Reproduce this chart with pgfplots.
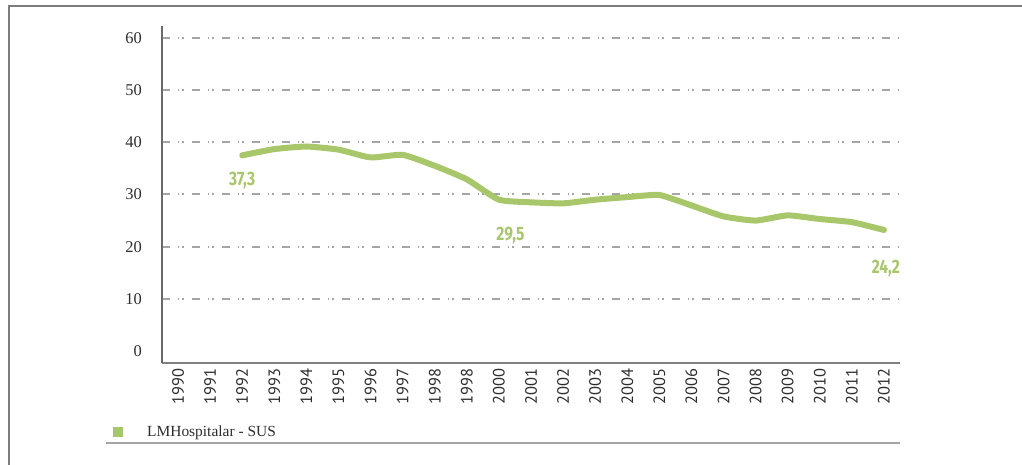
\documentclass[border=0pt]{standalone}
\usepackage{fontspec}
\setmainfont{Liberation Serif}
\newfontfamily\ptsans{PT Sans}
\newfontfamily\cond[FakeStretch=0.8]{Fira Sans}
\usepackage{pgfplots}
\pgfplotsset{compat=1.18}
\definecolor{lmgreen}{RGB}{168,198,106}
\definecolor{gridgray}{RGB}{165,165,165}
\definecolor{axisgray}{RGB}{105,105,105}
\definecolor{framegray}{RGB}{125,125,125}
\definecolor{txt}{RGB}{45,45,45}
\begin{document}
\begin{tikzpicture}[x=1bp,y=1bp]
\useasboundingbox (0,0) rectangle (1022,465);
\draw[color=framegray, line width=2bp] (9,0) -- (9,459) -- (1022,459);
\begin{axis}[
  at={(162bp,102bp)}, anchor=south west,
  scale only axis, width=738bp, height=337bp,
  xmin=-0.5, xmax=22.5, ymin=-2.3, ymax=62.3,
  clip=false,
  separate axis lines,
  axis x line*=bottom, axis y line*=left,
  x axis line style={color=axisgray!85, line width=2.5bp, -},
  y axis line style={color=axisgray, line width=2bp, -},
  major tick length=0pt,
  xtick={0,...,22},
  xticklabels={1990,1991,1992,1993,1994,1995,1996,1997,1998,1998,2000,2001,2002,2003,2004,2005,2006,2007,2008,2009,2010,2011,2012},
  xticklabel style={anchor=east, rotate=90, inner xsep=5bp, inner ysep=0pt, font=\ptsans\fontsize{16.5}{16.5}\selectfont, text=txt},
  ytick={10,20,...,60},
  extra y ticks={0},
  extra y tick style={grid=none},
  ymajorgrids,
  grid style={gridgray, line width=2bp, dash pattern=on 7.5bp off 8bp on 1.7bp off 2.6bp on 1.7bp off 8.5bp},
  yticklabel style={anchor=east, inner sep=0pt, xshift=-20bp, font=\fontsize{16.5}{16.5}\selectfont, text=txt},
  /pgf/number format/assume math mode=true,
  legend style={at={(axis description cs:-0.0664,-0.2047)}, anchor=west, draw=none, fill=none, inner sep=0pt, nodes={inner sep=0pt, text=txt}, font=\fontsize{15.5}{15.5}\selectfont},
  legend image code/.code={\fill[lmgreen, draw=none] (0bp,-5bp) rectangle (10bp,5bp); \path[draw=none] (0bp,0bp) -- (34bp,0bp);},
]
\addplot[lmgreen, line width=6bp, smooth, tension=0.3, line cap=round, line join=round] coordinates {
(2,37.5) (3,38.7) (4,39.2) (5,38.6) (6,37.1) (7,37.6) (8,35.5) (9,32.9)
(10,29.0) (11,28.5) (12,28.3) (13,29.0) (14,29.5) (15,29.9) (16,27.9)
(17,25.8) (18,25.0) (19,26.0) (20,25.3) (21,24.7) (22,23.2)
};
\addlegendentry{LMHospitalar - SUS}
\node[font=\cond\bfseries\fontsize{19.5}{19.5}\selectfont, text=lmgreen] at (axis cs:2,32.7) {37,3};
\node[font=\cond\bfseries\fontsize{19.5}{19.5}\selectfont, text=lmgreen] at (axis cs:10.36,22.1) {29,5};
\node[font=\cond\bfseries\fontsize{19.5}{19.5}\selectfont, text=lmgreen] at (axis cs:22.06,15.8) {24,2};
\end{axis}
\draw[color=gridgray, line width=2bp] (106,22) -- (900,22);
\end{tikzpicture}
\end{document}
